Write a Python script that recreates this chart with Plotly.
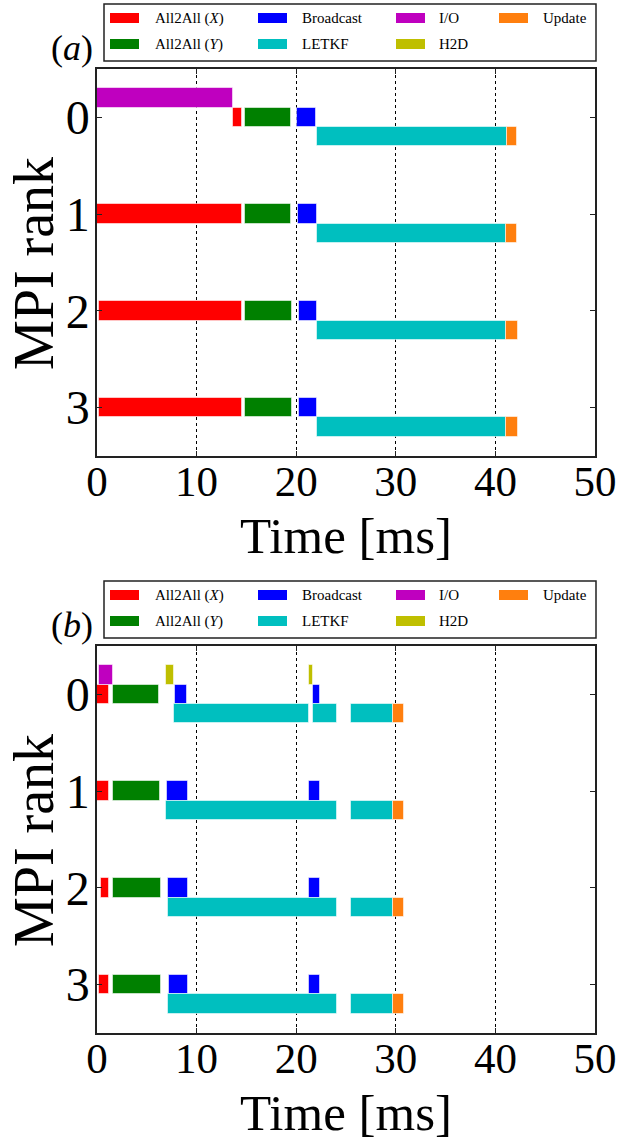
import plotly.graph_objects as go

W, H = 628, 1140

RANKS = [0, 1, 2, 3]
X_TICKS = [0, 10, 20, 30, 40, 50]
TASKS = ["All2All (X)", "All2All (Y)", "Broadcast", "LETKF", "I/O", "H2D", "Update"]

# ---- panel (a): segments as (rank, start_ms, end_ms) ----
A_ALL2ALL_X = [(0, 13.65, 14.56), (1, 0.0, 14.56), (2, 0.2, 14.56), (3, 0.2, 14.56)]
A_ALL2ALL_Y = [(0, 14.9, 19.45), (1, 14.9, 19.5), (2, 14.9, 19.55), (3, 14.9, 19.6)]
A_BROADCAST = [(0, 20.1, 22.0), (1, 20.2, 22.05), (2, 20.3, 22.05), (3, 20.3, 22.1)]
A_LETKF = [(0, 22.1, 41.16), (1, 22.1, 41.06), (2, 22.1, 41.06), (3, 22.1, 41.06)]
A_IO = [(0, 0.0, 13.65)]
A_H2D = []
A_UPDATE = [(0, 41.16, 42.2), (1, 41.06, 42.2), (2, 41.06, 42.3), (3, 41.06, 42.3)]

# ---- panel (b) ----
B_ALL2ALL_X = [(0, 0.03, 1.2), (1, 0.03, 1.2), (2, 0.43, 1.2), (3, 0.2, 1.2)]
B_ALL2ALL_Y = [(0, 1.64, 6.22), (1, 1.64, 6.3), (2, 1.64, 6.4), (3, 1.64, 6.4)]
B_BROADCAST = [(0, 7.86, 9.04), (0, 21.72, 22.42),
               (1, 7.06, 9.14), (1, 21.32, 22.42),
               (2, 7.13, 9.14), (2, 21.32, 22.42),
               (3, 7.23, 9.14), (3, 21.32, 22.42)]
B_LETKF = [(0, 7.76, 21.32), (0, 21.72, 24.06), (0, 25.5, 29.75),
           (1, 6.96, 24.06), (1, 25.5, 29.75),
           (2, 7.13, 24.06), (2, 25.5, 29.75),
           (3, 7.13, 24.06), (3, 25.5, 29.75)]
B_IO = [(0, 0.2, 1.64)]
B_H2D = [(0, 6.96, 7.76), (0, 21.29, 21.69)]
B_UPDATE = [(0, 29.75, 30.82), (1, 29.75, 30.82), (2, 29.75, 30.82), (3, 29.75, 30.82)]

COLORS = {
    "All2All (X)": "#ff0000",
    "All2All (Y)": "#008000",
    "Broadcast": "#0000ff",
    "LETKF": "#00bfbf",
    "I/O": "#bf00bf",
    "H2D": "#bfbf00",
    "Update": "#ff7f0e",
}
LANE = {"I/O": -0.2, "H2D": -0.2, "All2All (X)": 0.0, "All2All (Y)": 0.0,
        "Broadcast": 0.0, "LETKF": 0.2, "Update": 0.2}
LABELS = {"All2All (X)": "All2All (<i>X</i>)", "All2All (Y)": "All2All (<i>Y</i>)"}

PANELS = [
    {"x": "x", "y": "y", "data": {"All2All (X)": A_ALL2ALL_X, "All2All (Y)": A_ALL2ALL_Y,
                                  "Broadcast": A_BROADCAST, "LETKF": A_LETKF, "I/O": A_IO,
                                  "H2D": A_H2D, "Update": A_UPDATE}},
    {"x": "x2", "y": "y2", "data": {"All2All (X)": B_ALL2ALL_X, "All2All (Y)": B_ALL2ALL_Y,
                                    "Broadcast": B_BROADCAST, "LETKF": B_LETKF, "I/O": B_IO,
                                    "H2D": B_H2D, "Update": B_UPDATE}},
]


def px(x):
    return x / W


def py(y):
    return 1 - y / H


fig = go.Figure()
for p in PANELS:
    for task in TASKS:
        segs = p["data"][task]
        if not segs:
            continue
        fig.add_trace(go.Bar(
            orientation="h",
            y=[r + LANE[task] for r, s, e in segs],
            base=[s for r, s, e in segs],
            x=[e - s for r, s, e in segs],
            width=0.2,
            marker=dict(color=COLORS[task], line=dict(width=1, color="rgba(255,255,255,0.55)")),
            xaxis=p["x"], yaxis=p["y"], showlegend=False, name=task,
        ))

FONT = "Liberation Serif"
OFFSET = 577  # second panel is shifted down by this many pixels

axis_common = dict(showline=True, linecolor="#222", linewidth=1.5, mirror="ticks",
                   ticks="inside", ticklen=5, tickcolor="#222", zeroline=False,
                   automargin=False)

layout = dict(
    width=W, height=H, autosize=False,
    margin=dict(l=0, r=0, t=0, b=0, pad=0),
    paper_bgcolor="white", plot_bgcolor="white",
    barmode="overlay", bargap=0,
    font=dict(family=FONT, color="black"),
)
for i, (xa, ya) in enumerate([("xaxis", "yaxis"), ("xaxis2", "yaxis2")]):
    off = i * OFFSET
    layout[xa] = dict(axis_common, domain=[px(97), px(595)], range=[0, 50],
                      tickvals=X_TICKS, tickfont=dict(size=43, family=FONT),
                      ticklabelstandoff=-13,
                      showgrid=True, gridcolor="black", griddash="dot", gridwidth=1,
                      anchor="y" if i == 0 else "y2")
    layout[ya] = dict(axis_common, domain=[py(456 + off), py(69 + off)], range=[3.5, -0.5],
                      tickvals=RANKS, tickfont=dict(size=48, family=FONT), showgrid=False,
                      ticklabelstandoff=-4,
                      anchor="x" if i == 0 else "x2")

fig.update_layout(**layout)

# axis titles, panel letters and legends
for i, letter in enumerate(["a", "b"]):
    off = i * OFFSET
    fig.add_annotation(xref="paper", yref="paper", x=px(346), y=py(536 + off),
                       text="Time [ms]", showarrow=False, xanchor="center", yanchor="middle",
                       font=dict(size=51, family=FONT))
    fig.add_annotation(xref="paper", yref="paper", x=px(34), y=py(264 + off),
                       text="MPI rank", textangle=-90, showarrow=False,
                       xanchor="center", yanchor="middle", font=dict(size=56, family=FONT))
    fig.add_annotation(xref="paper", yref="paper", x=px(72), y=py(48 + off),
                       text=f"(<i>{letter}</i>)", showarrow=False, xanchor="center",
                       yanchor="middle", font=dict(size=36, family=FONT))
    # legend frame
    fig.add_shape(type="rect", xref="paper", yref="paper",
                  x0=px(104), x1=px(596), y0=py(61 + off), y1=py(4 + off),
                  line=dict(color="#222", width=1.5), fillcolor="white")
    cols = [(110, 153), (258, 300), (396, 437), (499, 541)]
    rows = [18, 44]
    order = [["All2All (X)", "All2All (Y)"], ["Broadcast", "LETKF"], ["I/O", "H2D"], ["Update"]]
    for ci, col_tasks in enumerate(order):
        sx, tx = cols[ci]
        for ri, task in enumerate(col_tasks):
            cy = rows[ri] + off
            fig.add_shape(type="rect", xref="paper", yref="paper",
                          x0=px(sx), x1=px(sx + 29), y0=py(cy + 5), y1=py(cy - 5),
                          line=dict(width=0), fillcolor=COLORS[task])
            fig.add_annotation(xref="paper", yref="paper", x=px(tx), y=py(cy),
                               text=LABELS.get(task, task), showarrow=False,
                               xanchor="left", yanchor="middle",
                               font=dict(size=15, family=FONT))

fig.write_html("out.html",
               config={"displayModeBar": False},
               post_script="document.body.style.margin='0px';"
                           "document.body.style.overflow='hidden';")
